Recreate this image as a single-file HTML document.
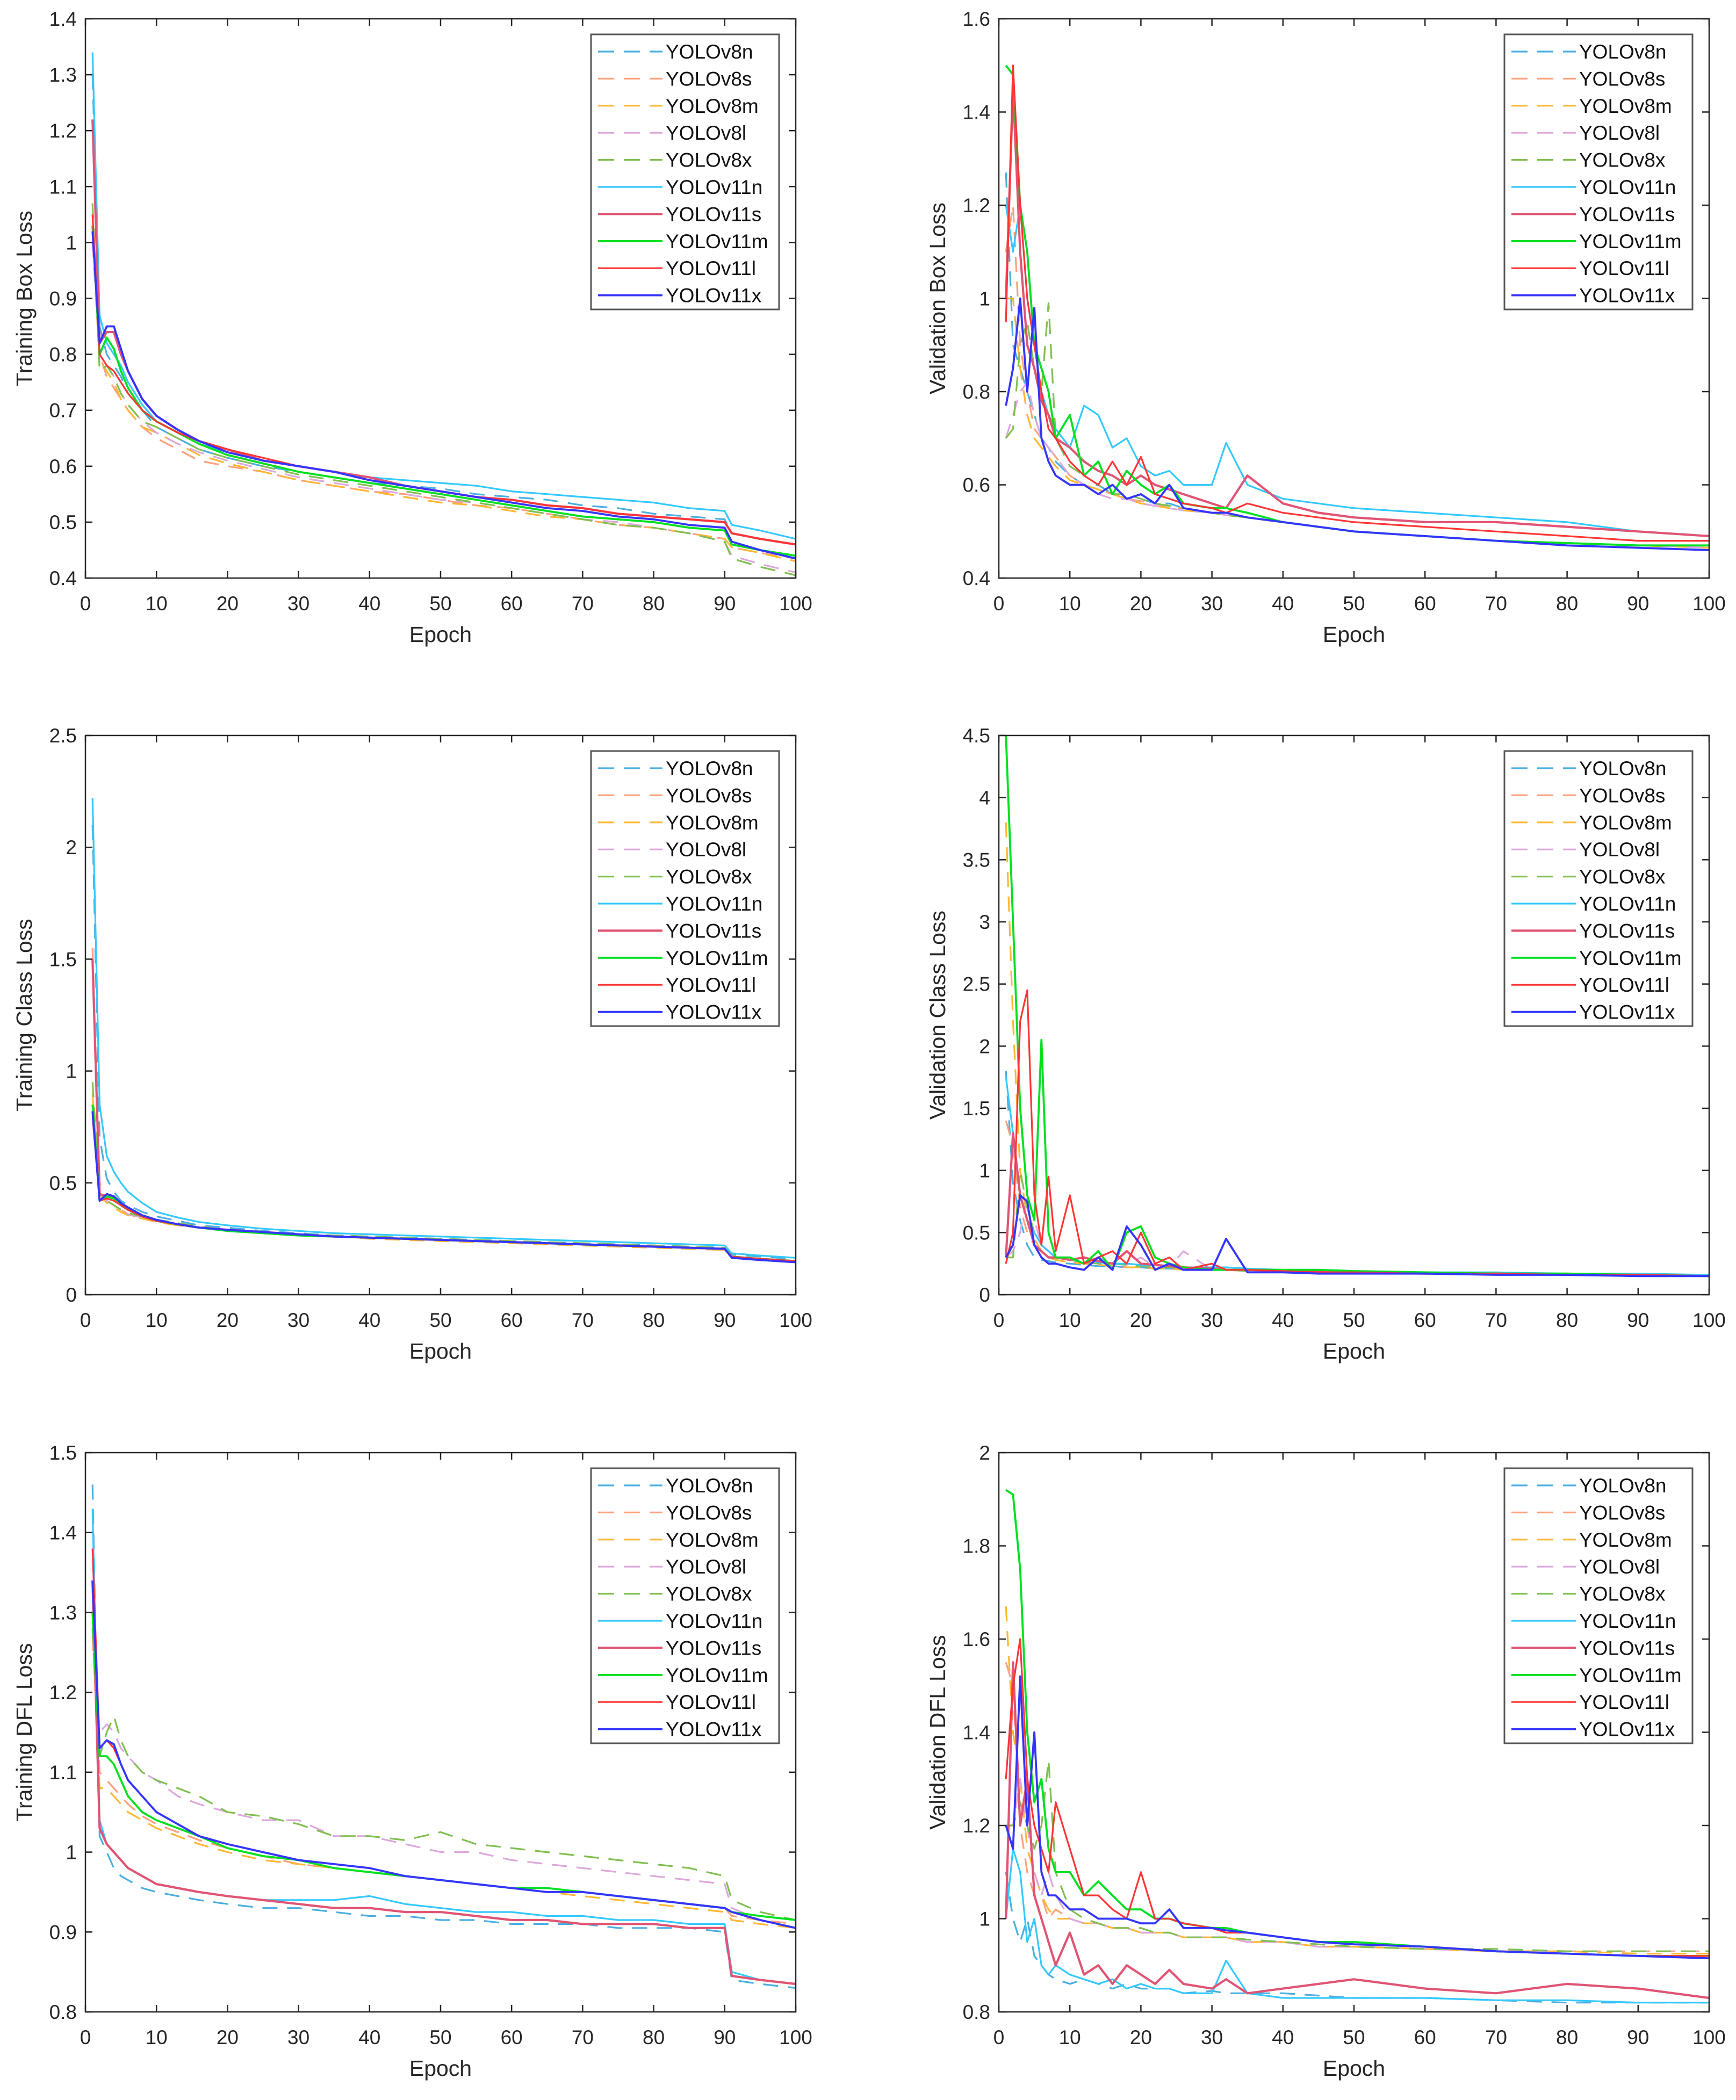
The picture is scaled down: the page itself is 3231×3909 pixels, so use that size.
<!DOCTYPE html>
<html><head><meta charset="utf-8">
<style>
html,body{margin:0;padding:0;background:#fff;}
svg{display:block;font-family:"Liberation Sans",Arial,sans-serif;}
</style></head>
<body>
<svg id="fig" width="3231" height="3909" viewBox="0 0 3231 3909" xmlns="http://www.w3.org/2000/svg"></svg>
<script>
// ---- data ----
const seriesNames = ["YOLOv8n","YOLOv8s","YOLOv8m","YOLOv8l","YOLOv8x","YOLOv11n","YOLOv11s","YOLOv11m","YOLOv11l","YOLOv11x"];
const seriesColors = ["#4aaee0","#ffa07a","#ffb733","#dca8dc","#80bf50","#33c8ff","#e05474","#00e020","#ff3434","#3434ff"];
const seriesDashed = [true,true,true,true,true,false,false,false,false,false];
const seriesWidths = [3.2,3.2,3.2,3.2,3.2,3.2,4.2,3.8,3.2,3.8];

const epochsTrain = [1,2,3,4,5,6,8,10,13,16,20,25,30,35,40,45,50,55,60,65,70,75,80,85,90,91,95,100];
const epochsVal = [1,2,3,4,5,6,7,8,10,12,14,16,18,20,22,24,26,30,32,35,40,45,50,60,70,80,90,100];
const xTicks = [0,10,20,30,40,50,60,70,80,90,100];

const trainBoxTicks = ["0.4","0.5","0.6","0.7","0.8","0.9","1","1.1","1.2","1.3","1.4"];
const trainBox = [
[1.30,0.85,0.80,0.78,0.76,0.73,0.70,0.67,0.65,0.63,0.615,0.60,0.59,0.58,0.57,0.565,0.56,0.55,0.545,0.54,0.53,0.525,0.515,0.51,0.505,0.48,0.47,0.46],
[1.05,0.80,0.76,0.74,0.72,0.70,0.67,0.65,0.63,0.61,0.60,0.59,0.575,0.565,0.555,0.55,0.54,0.53,0.525,0.515,0.505,0.495,0.49,0.48,0.47,0.455,0.445,0.435],
[1.0,0.79,0.77,0.75,0.72,0.70,0.67,0.66,0.64,0.62,0.605,0.59,0.575,0.565,0.555,0.545,0.535,0.53,0.52,0.51,0.505,0.495,0.49,0.48,0.47,0.455,0.445,0.43],
[1.0,0.80,0.78,0.76,0.73,0.71,0.68,0.66,0.64,0.625,0.61,0.595,0.58,0.57,0.56,0.55,0.54,0.535,0.525,0.515,0.505,0.5,0.49,0.48,0.465,0.44,0.425,0.41],
[1.07,0.77,0.78,0.76,0.73,0.71,0.68,0.67,0.65,0.63,0.615,0.6,0.585,0.575,0.565,0.555,0.545,0.535,0.525,0.515,0.505,0.495,0.49,0.48,0.465,0.435,0.42,0.405],
[1.34,0.87,0.82,0.80,0.78,0.75,0.71,0.68,0.66,0.64,0.625,0.61,0.60,0.59,0.58,0.575,0.57,0.565,0.555,0.55,0.545,0.54,0.535,0.525,0.52,0.495,0.485,0.47],
[1.22,0.82,0.84,0.84,0.80,0.77,0.72,0.69,0.665,0.645,0.63,0.61,0.60,0.59,0.58,0.565,0.555,0.545,0.54,0.53,0.525,0.515,0.51,0.505,0.50,0.48,0.47,0.46],
[1.03,0.80,0.83,0.81,0.77,0.74,0.70,0.68,0.66,0.64,0.62,0.605,0.59,0.58,0.57,0.56,0.55,0.54,0.53,0.52,0.51,0.505,0.50,0.49,0.485,0.46,0.45,0.44],
[1.05,0.80,0.78,0.77,0.75,0.73,0.70,0.68,0.66,0.645,0.63,0.615,0.60,0.59,0.575,0.565,0.555,0.545,0.54,0.53,0.525,0.515,0.51,0.505,0.50,0.48,0.47,0.46],
[1.02,0.82,0.85,0.85,0.81,0.77,0.72,0.69,0.665,0.645,0.625,0.61,0.60,0.59,0.575,0.565,0.555,0.545,0.535,0.525,0.52,0.51,0.505,0.495,0.49,0.465,0.45,0.435]
];

const valBoxTicks = ["0.4","0.6","0.8","1","1.2","1.4","1.6"];
const valBox = [
[1.27,0.9,0.85,0.8,0.75,0.7,0.68,0.65,0.62,0.6,0.6,0.58,0.57,0.57,0.56,0.56,0.55,0.54,0.54,0.53,0.52,0.51,0.5,0.49,0.48,0.475,0.47,0.47],
[1.1,1.2,0.9,0.8,0.72,0.7,0.68,0.66,0.62,0.6,0.59,0.58,0.57,0.565,0.56,0.55,0.55,0.54,0.535,0.53,0.52,0.51,0.5,0.49,0.48,0.475,0.47,0.47],
[1.0,1.0,0.85,0.75,0.7,0.68,0.66,0.64,0.61,0.6,0.59,0.58,0.57,0.56,0.555,0.55,0.545,0.54,0.535,0.53,0.52,0.51,0.5,0.49,0.48,0.475,0.47,0.465],
[0.7,0.75,0.8,0.82,0.75,0.7,0.68,0.66,0.62,0.6,0.58,0.57,0.57,0.56,0.555,0.55,0.545,0.54,0.535,0.53,0.52,0.51,0.5,0.49,0.48,0.475,0.47,0.465],
[0.7,0.72,0.9,0.95,0.85,0.8,0.99,0.7,0.64,0.62,0.6,0.58,0.58,0.57,0.56,0.555,0.55,0.54,0.535,0.53,0.52,0.51,0.5,0.49,0.48,0.475,0.47,0.47],
[1.2,1.1,1.2,1.0,0.9,0.8,0.75,0.72,0.68,0.77,0.75,0.68,0.7,0.64,0.62,0.63,0.6,0.6,0.69,0.6,0.57,0.56,0.55,0.54,0.53,0.52,0.5,0.49],
[1.0,1.45,1.1,0.9,0.85,0.78,0.75,0.7,0.68,0.65,0.63,0.62,0.6,0.62,0.6,0.59,0.58,0.56,0.55,0.62,0.56,0.54,0.53,0.52,0.52,0.51,0.5,0.49],
[1.5,1.48,1.2,1.1,0.9,0.85,0.8,0.7,0.75,0.62,0.65,0.58,0.63,0.6,0.58,0.6,0.56,0.55,0.55,0.54,0.52,0.51,0.5,0.49,0.48,0.475,0.47,0.47],
[0.95,1.5,1.2,1.0,0.9,0.8,0.72,0.7,0.65,0.62,0.6,0.65,0.6,0.66,0.58,0.57,0.56,0.55,0.54,0.56,0.54,0.53,0.52,0.51,0.5,0.49,0.48,0.48],
[0.77,0.85,1.0,0.8,0.98,0.7,0.65,0.62,0.6,0.6,0.58,0.6,0.57,0.58,0.56,0.6,0.55,0.54,0.54,0.53,0.52,0.51,0.5,0.49,0.48,0.47,0.465,0.46]
];

const trainClsTicks = ["0","0.5","1","1.5","2","2.5"];
const trainCls = [
[2.1,0.7,0.52,0.46,0.42,0.40,0.37,0.35,0.33,0.31,0.30,0.285,0.275,0.265,0.26,0.255,0.25,0.245,0.24,0.235,0.23,0.225,0.22,0.215,0.21,0.18,0.17,0.16],
[1.55,0.5,0.42,0.40,0.38,0.36,0.34,0.33,0.31,0.30,0.285,0.275,0.265,0.26,0.255,0.25,0.245,0.24,0.235,0.23,0.225,0.22,0.215,0.21,0.2,0.17,0.16,0.15],
[0.9,0.45,0.41,0.39,0.37,0.355,0.34,0.325,0.31,0.30,0.285,0.275,0.265,0.26,0.25,0.245,0.24,0.235,0.23,0.225,0.22,0.215,0.21,0.205,0.2,0.165,0.155,0.145],
[0.85,0.44,0.42,0.40,0.38,0.36,0.345,0.33,0.315,0.30,0.29,0.28,0.27,0.26,0.255,0.25,0.245,0.24,0.235,0.23,0.225,0.22,0.215,0.21,0.205,0.165,0.155,0.145],
[0.95,0.45,0.42,0.40,0.38,0.365,0.35,0.335,0.32,0.305,0.29,0.28,0.27,0.265,0.26,0.255,0.25,0.245,0.24,0.235,0.23,0.225,0.22,0.215,0.21,0.17,0.16,0.15],
[2.22,0.85,0.62,0.55,0.50,0.46,0.41,0.37,0.345,0.325,0.31,0.295,0.285,0.275,0.27,0.265,0.26,0.255,0.25,0.245,0.24,0.235,0.23,0.225,0.22,0.185,0.175,0.165],
[1.5,0.45,0.44,0.43,0.40,0.38,0.35,0.33,0.315,0.30,0.29,0.28,0.27,0.26,0.255,0.25,0.245,0.24,0.235,0.23,0.225,0.22,0.215,0.21,0.205,0.17,0.16,0.15],
[0.85,0.42,0.44,0.43,0.40,0.38,0.35,0.33,0.315,0.30,0.285,0.275,0.265,0.26,0.255,0.25,0.245,0.24,0.235,0.23,0.225,0.22,0.215,0.21,0.205,0.17,0.16,0.15],
[0.8,0.42,0.43,0.42,0.40,0.38,0.35,0.33,0.315,0.30,0.29,0.28,0.27,0.26,0.255,0.25,0.245,0.24,0.235,0.23,0.225,0.22,0.215,0.21,0.205,0.17,0.16,0.15],
[0.82,0.42,0.45,0.44,0.41,0.39,0.355,0.335,0.315,0.30,0.29,0.28,0.27,0.26,0.255,0.25,0.245,0.24,0.235,0.23,0.225,0.22,0.215,0.21,0.205,0.165,0.155,0.145]
];

const valClsTicks = ["0","0.5","1","1.5","2","2.5","3","3.5","4","4.5"];
const valCls = [
[1.8,0.9,0.6,0.4,0.3,0.28,0.27,0.26,0.25,0.24,0.23,0.23,0.22,0.22,0.21,0.21,0.2,0.2,0.2,0.19,0.19,0.18,0.18,0.17,0.17,0.16,0.16,0.15],
[1.4,1.2,0.7,0.5,0.4,0.35,0.3,0.28,0.26,0.25,0.24,0.23,0.22,0.22,0.21,0.21,0.2,0.2,0.2,0.19,0.19,0.18,0.18,0.17,0.17,0.16,0.16,0.15],
[3.8,2.2,1.0,0.6,0.45,0.35,0.3,0.28,0.26,0.25,0.24,0.23,0.22,0.22,0.21,0.21,0.2,0.2,0.2,0.19,0.19,0.18,0.18,0.17,0.17,0.16,0.16,0.15],
[0.3,0.35,0.5,0.8,0.6,0.4,0.35,0.3,0.28,0.26,0.3,0.25,0.24,0.3,0.22,0.22,0.35,0.2,0.2,0.19,0.19,0.18,0.18,0.17,0.17,0.16,0.16,0.15],
[0.3,0.3,1.0,0.7,0.5,0.4,0.35,0.3,0.28,0.26,0.25,0.25,0.24,0.23,0.22,0.22,0.21,0.2,0.2,0.19,0.19,0.18,0.18,0.17,0.17,0.16,0.16,0.15],
[1.75,1.3,0.8,0.6,0.5,0.4,0.35,0.3,0.28,0.3,0.26,0.25,0.25,0.24,0.24,0.23,0.22,0.22,0.22,0.21,0.2,0.2,0.19,0.18,0.18,0.17,0.17,0.16],
[0.3,1.3,0.8,0.6,0.4,0.35,0.3,0.3,0.28,0.3,0.27,0.25,0.35,0.25,0.24,0.23,0.22,0.21,0.2,0.2,0.19,0.19,0.18,0.17,0.17,0.16,0.16,0.15],
[4.5,3.0,1.5,0.8,0.6,2.05,0.5,0.3,0.3,0.25,0.35,0.2,0.5,0.55,0.3,0.25,0.22,0.2,0.2,0.2,0.2,0.2,0.19,0.18,0.17,0.17,0.16,0.15],
[0.25,0.5,2.2,2.45,0.8,0.4,0.95,0.35,0.8,0.25,0.3,0.35,0.25,0.5,0.25,0.3,0.2,0.25,0.2,0.2,0.19,0.18,0.18,0.17,0.17,0.16,0.16,0.15],
[0.3,0.4,0.8,0.75,0.4,0.3,0.25,0.25,0.22,0.2,0.3,0.2,0.55,0.4,0.2,0.25,0.2,0.2,0.45,0.18,0.18,0.17,0.17,0.17,0.16,0.16,0.15,0.15]
];

const trainDflTicks = ["0.8","0.9","1","1.1","1.2","1.3","1.4","1.5"];
const trainDfl = [
[1.46,1.02,1.0,0.98,0.97,0.965,0.955,0.95,0.945,0.94,0.935,0.93,0.93,0.925,0.92,0.92,0.915,0.915,0.91,0.91,0.91,0.905,0.905,0.905,0.90,0.84,0.835,0.83],
[1.27,1.10,1.09,1.08,1.07,1.06,1.045,1.035,1.025,1.015,1.005,0.995,0.985,0.98,0.975,0.97,0.965,0.96,0.955,0.95,0.95,0.945,0.94,0.935,0.93,0.92,0.915,0.91],
[1.28,1.08,1.08,1.07,1.06,1.05,1.04,1.03,1.02,1.01,1.0,0.99,0.985,0.98,0.975,0.97,0.965,0.96,0.955,0.95,0.945,0.94,0.935,0.93,0.925,0.915,0.91,0.905],
[1.3,1.15,1.16,1.15,1.13,1.12,1.10,1.09,1.07,1.06,1.05,1.04,1.04,1.02,1.02,1.01,1.0,1.0,0.99,0.985,0.98,0.975,0.97,0.965,0.96,0.93,0.915,0.905],
[1.28,1.12,1.15,1.17,1.14,1.12,1.10,1.09,1.08,1.07,1.05,1.045,1.035,1.02,1.02,1.015,1.025,1.01,1.005,1.0,0.995,0.99,0.985,0.98,0.97,0.94,0.925,0.915],
[1.43,1.04,1.01,1.0,0.99,0.98,0.97,0.96,0.955,0.95,0.945,0.94,0.94,0.94,0.945,0.935,0.93,0.925,0.925,0.92,0.92,0.915,0.915,0.91,0.91,0.85,0.84,0.835],
[1.34,1.03,1.01,1.0,0.99,0.98,0.97,0.96,0.955,0.95,0.945,0.94,0.935,0.93,0.93,0.925,0.925,0.92,0.915,0.915,0.91,0.91,0.91,0.905,0.905,0.845,0.84,0.835],
[1.3,1.12,1.12,1.11,1.09,1.07,1.05,1.04,1.03,1.02,1.005,0.995,0.99,0.98,0.975,0.97,0.965,0.96,0.955,0.955,0.95,0.945,0.94,0.935,0.93,0.925,0.92,0.915],
[1.38,1.13,1.14,1.13,1.11,1.09,1.07,1.05,1.035,1.02,1.01,1.0,0.99,0.985,0.98,0.97,0.965,0.96,0.955,0.95,0.95,0.945,0.94,0.935,0.93,0.925,0.915,0.905],
[1.34,1.13,1.14,1.135,1.11,1.09,1.07,1.05,1.035,1.02,1.01,1.0,0.99,0.985,0.98,0.97,0.965,0.96,0.955,0.95,0.95,0.945,0.94,0.935,0.93,0.925,0.915,0.905]
];

const valDflTicks = ["0.8","1","1.2","1.4","1.6","1.8","2"];
const valDfl = [
[1.1,1.0,0.95,1.0,0.92,0.9,0.88,0.87,0.86,0.87,0.86,0.85,0.86,0.85,0.85,0.85,0.84,0.845,0.84,0.84,0.84,0.835,0.83,0.83,0.825,0.82,0.82,0.82],
[1.55,1.5,1.2,1.1,1.05,1.05,1.0,1.02,1.0,0.99,0.99,0.98,0.98,0.97,0.97,0.97,0.96,0.96,0.96,0.95,0.95,0.94,0.94,0.935,0.93,0.93,0.93,0.93],
[1.67,1.4,1.3,1.15,1.1,1.05,1.02,1.0,1.0,0.99,0.99,0.98,0.98,0.97,0.97,0.97,0.96,0.96,0.96,0.95,0.95,0.94,0.94,0.935,0.93,0.93,0.925,0.925],
[1.2,1.2,1.3,1.2,1.1,1.05,1.1,1.05,1.0,0.99,0.99,0.98,0.98,0.97,0.97,0.97,0.96,0.96,0.96,0.95,0.95,0.94,0.94,0.935,0.93,0.93,0.93,0.93],
[1.2,1.2,1.25,1.2,1.15,1.2,1.34,1.1,1.02,1.0,0.99,0.98,0.98,0.98,0.97,0.97,0.96,0.96,0.96,0.955,0.95,0.945,0.94,0.935,0.935,0.93,0.93,0.93],
[1.0,1.15,1.1,0.95,1.0,0.9,0.88,0.9,0.88,0.87,0.86,0.87,0.85,0.86,0.85,0.85,0.84,0.84,0.91,0.84,0.83,0.83,0.83,0.83,0.825,0.825,0.82,0.82],
[1.0,1.55,1.2,1.3,1.05,1.0,0.95,0.9,0.97,0.88,0.9,0.86,0.9,0.88,0.86,0.89,0.86,0.85,0.87,0.84,0.85,0.86,0.87,0.85,0.84,0.86,0.85,0.83],
[1.92,1.91,1.75,1.4,1.25,1.3,1.15,1.1,1.1,1.05,1.08,1.05,1.02,1.02,1.0,1.0,0.99,0.98,0.98,0.97,0.96,0.95,0.95,0.94,0.93,0.925,0.92,0.92],
[1.3,1.5,1.6,1.3,1.2,1.15,1.1,1.25,1.15,1.05,1.05,1.02,1.0,1.1,1.0,1.0,0.99,0.98,0.97,0.97,0.96,0.95,0.945,0.94,0.93,0.925,0.92,0.92],
[1.2,1.15,1.52,1.2,1.4,1.1,1.05,1.05,1.02,1.02,1.0,1.0,1.0,0.99,0.99,1.02,0.98,0.98,0.975,0.97,0.96,0.95,0.945,0.94,0.93,0.925,0.92,0.915]
];

// ---- drawing ----
const NS = "http://www.w3.org/2000/svg";
const fig = document.getElementById("fig");
function mk(tag, attrs, parent){
  const e = document.createElementNS(NS, tag);
  for (const k in attrs) e.setAttribute(k, attrs[k]);
  parent.appendChild(e);
  return e;
}
const AX = "#262626";

function drawChart(cfg){
  const L=cfg.left, R=cfg.left+1322, T=cfg.top, B=cfg.top+1041;
  const g = mk("g", {}, fig);
  
  
  const yMin=parseFloat(cfg.ticks[0]), yMax=parseFloat(cfg.ticks[cfg.ticks.length-1]);
  const sx = v => L + (v-0)/(100-0)*(R-L);
  const sy = v => B - (v-yMin)/(yMax-yMin)*(B-T);
  const cid = "clip-"+cfg.name;
  const cp = mk("clipPath", {id:cid}, g);
  mk("rect", {x:L, y:T, width:R-L, height:B-T}, cp);
  const sg = mk("g", {"clip-path":"url(#"+cid+")"}, g);
  
  
  cfg.data.forEach((vals,i)=>{
    const pts = vals.map((v,j)=>sx(cfg.epochs[j]).toFixed(1)+","+sy(v).toFixed(1)).join(" ");
    const pl = mk("polyline", {points:pts, fill:"none", stroke:seriesColors[i], "stroke-width":seriesWidths[i], "stroke-linejoin":"round"}, sg);
    if (seriesDashed[i]) pl.setAttribute("stroke-dasharray","28 18");
    
    
  });
  const tg = mk("g", {stroke:AX, "stroke-width":2.5}, g);
  
  
  xTicks.forEach(t=>{
    const x=sx(t);
    mk("line",{x1:x,y1:B,x2:x,y2:B-13},tg);
    mk("line",{x1:x,y1:T,x2:x,y2:T+13},tg);
    const tx = mk("text",{x:x,y:B+60,"text-anchor":"middle","font-size":37,fill:AX,stroke:"none"},g);
    tx.textContent=t;
    
    
  });
  cfg.ticks.forEach(t=>{
    const y=sy(parseFloat(t));
    mk("line",{x1:L,y1:y,x2:L+13,y2:y},tg);
    mk("line",{x1:R,y1:y,x2:R-13,y2:y},tg);
    const tx = mk("text",{x:L-16,y:y+13,"text-anchor":"end","font-size":37,fill:AX,stroke:"none"},g);
    tx.textContent=t;
    
    
  });
  const frame = mk("rect",{x:L,y:T,width:R-L,height:B-T,fill:"none",stroke:AX,"stroke-width":2.5},g);
  
  
  const xl = mk("text",{x:(L+R)/2,y:B+119,"text-anchor":"middle","font-size":41,fill:AX},g);
  xl.textContent="Epoch";
  
  
  const yx=L-100, yy=(T+B)/2;
  const yl = mk("text",{x:yx,y:yy,"text-anchor":"middle","font-size":41,fill:AX,transform:"rotate(-90 "+yx+" "+yy+")"},g);
  yl.textContent=cfg.ylabel;
  
  
  const lx=R-381, ly=T+29;
  const lg = mk("g",{},g);
  
  
  mk("rect",{x:lx,y:ly,width:350,height:512,fill:"#fff",stroke:"#555","stroke-width":3},lg);
  seriesNames.forEach((n,i)=>{
    const yy2 = ly+32+i*50.4;
    const ln = mk("line",{x1:lx+13,y1:yy2,x2:lx+133,y2:yy2,stroke:seriesColors[i],"stroke-width":seriesWidths[i]},lg);
    if (seriesDashed[i]) ln.setAttribute("stroke-dasharray","30 18");
    
    
    const tx = mk("text",{x:lx+139,y:yy2+13,"font-size":37,fill:"#111"},lg);
    tx.textContent=n;
    
    
  });
}

drawChart({name:"training-box-loss-chart",left:159,top:35,ticks:trainBoxTicks,data:trainBox,epochs:epochsTrain,ylabel:"Training Box Loss"});
drawChart({name:"validation-box-loss-chart",left:1859,top:35,ticks:valBoxTicks,data:valBox,epochs:epochsVal,ylabel:"Validation Box Loss"});
drawChart({name:"training-class-loss-chart",left:159,top:1369,ticks:trainClsTicks,data:trainCls,epochs:epochsTrain,ylabel:"Training Class Loss"});
drawChart({name:"validation-class-loss-chart",left:1859,top:1369,ticks:valClsTicks,data:valCls,epochs:epochsVal,ylabel:"Validation Class Loss"});
drawChart({name:"training-dfl-loss-chart",left:159,top:2704,ticks:trainDflTicks,data:trainDfl,epochs:epochsTrain,ylabel:"Training DFL Loss"});
drawChart({name:"validation-dfl-loss-chart",left:1859,top:2704,ticks:valDflTicks,data:valDfl,epochs:epochsVal,ylabel:"Validation DFL Loss"});
</script>
</body></html>
